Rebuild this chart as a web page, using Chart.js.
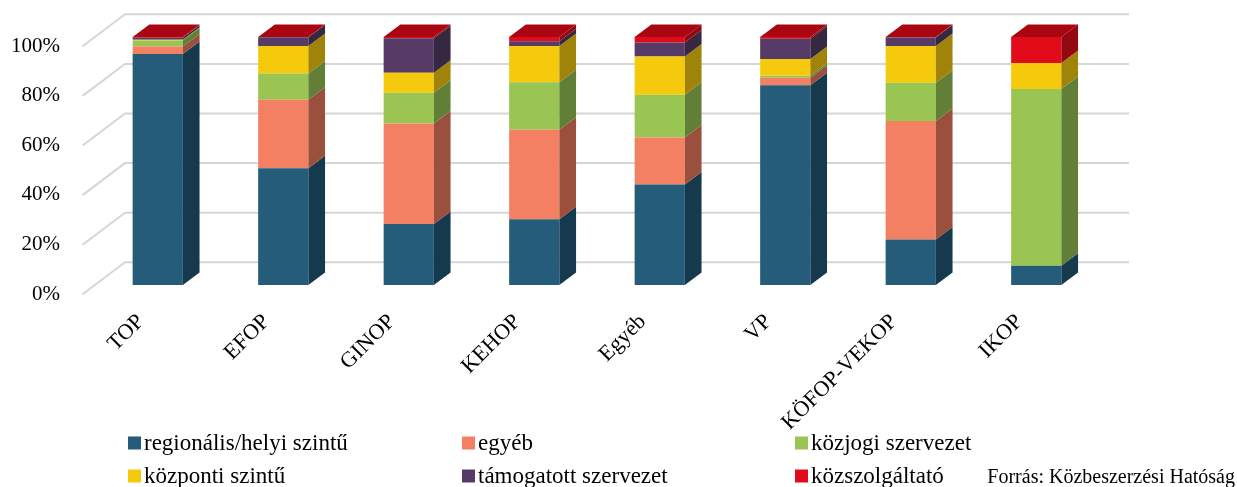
<!DOCTYPE html>
<html>
<head>
<meta charset="utf-8">
<script src="https://cdn.jsdelivr.net/npm/chart.js@4/dist/chart.umd.min.js"></script>
<style>
  html, body { margin: 0; padding: 0; background: #ffffff; }
  #wrap { position: relative; width: 1237px; height: 487px; }
</style>
</head>
<body>
<div id="wrap"><canvas id="kozbeszChart"></canvas></div>
<script>
// Operatív programok és ajánlatkérő típusok megoszlása (%)
const programs = ['TOP', 'EFOP', 'GINOP', 'KEHOP', 'Egyéb', 'VP', 'KÖFOP-VEKOP', 'IKOP'];
const regionalis = [93.1, 47.1, 24.6, 26.5, 40.5, 80.5, 18.3, 7.8];
const egyeb      = [3.1, 27.6, 40.5, 36.1, 19.0, 3.1, 47.8, 0.0];
const kozjogi    = [2.4, 10.6, 12.4, 19.2, 17.2, 0.8, 15.5, 71.2];
const kozponti   = [0.3, 11.1, 8.1, 14.6, 15.4, 6.7, 14.8, 10.5];
const tamogatott = [0.8, 3.5, 13.9, 1.9, 5.7, 8.2, 3.4, 0.0];
const kozszolg   = [0.3, 0.1, 0.5, 1.7, 2.2, 0.7, 0.2, 10.5];
const yTickValues = [0, 20, 40, 60, 80, 100];

const seriesNames = ['regionális/helyi szintű', 'egyéb', 'közjogi szervezet',
                     'központi szintű', 'támogatott szervezet', 'közszolgáltató'];
const frontColors = ['#245C7A', '#F38062', '#9BC552', '#F6CA0C', '#553B66', '#E10B1A'];
const sideColors  = ['#163A4D', '#9A503D', '#617F36', '#A0840A', '#372841', '#930811'];
const topColor = '#AA0612';

// depth of the boxes and of the back wall
const DEPTH_X = 16.7, DEPTH_Y = -12.5;
const WALL_X = 30, WALL_Y = -22.7;
const FRONT_X = -12.4, FRONT_Y = 9.3;
const GRID_COLOR = '#d6d6d6';

const serif = "'Liberation Serif', 'Times New Roman', serif";

const box3d = {
  id: 'box3d',
  beforeDatasetsDraw(chart) {
    const { ctx, chartArea, scales } = chart;
    ctx.save();
    ctx.strokeStyle = GRID_COLOR;
    ctx.lineWidth = 2;
    scales.y.ticks.forEach(t => {
      const py = scales.y.getPixelForValue(t.value);
      ctx.beginPath();
      ctx.moveTo(chartArea.left + FRONT_X, py + FRONT_Y);
      ctx.lineTo(chartArea.left + WALL_X, py + WALL_Y);
      ctx.lineTo(chartArea.right + WALL_X, py + WALL_Y);
      ctx.stroke();
    });
    ctx.restore();
  },
  afterDatasetsDraw(chart) {
    const { ctx } = chart;
    const tops = {};
    ctx.save();
    chart.data.datasets.forEach((ds, di) => {
      const meta = chart.getDatasetMeta(di);
      meta.data.forEach((bar, i) => {
        const half = bar.width / 2;
        const right = bar.x + half;
        const top = Math.min(bar.y, bar.base);
        const bottom = Math.max(bar.y, bar.base);
        if (!tops[i] || top < tops[i].top) tops[i] = { top, left: bar.x - half, right };
        if (bottom - top < 0.01) return;
        ctx.fillStyle = sideColors[di];
        ctx.beginPath();
        ctx.moveTo(right, top);
        ctx.lineTo(right + DEPTH_X, top + DEPTH_Y);
        ctx.lineTo(right + DEPTH_X, bottom + DEPTH_Y);
        ctx.lineTo(right, bottom);
        ctx.closePath();
        ctx.fill();
      });
    });
    // lids of the stacks
    Object.values(tops).forEach(b => {
      ctx.fillStyle = topColor;
      ctx.beginPath();
      ctx.moveTo(b.left, b.top);
      ctx.lineTo(b.left + DEPTH_X, b.top + DEPTH_Y);
      ctx.lineTo(b.right + DEPTH_X, b.top + DEPTH_Y);
      ctx.lineTo(b.right, b.top);
      ctx.closePath();
      ctx.fill();
    });
    ctx.restore();
  },
  afterDraw(chart) {
    const { ctx } = chart;
    const colX = [128, 462, 795];
    const rowY = [443, 476];
    ctx.save();
    ctx.textBaseline = 'middle';
    ctx.textAlign = 'left';
    ctx.font = '23px ' + serif;
    chart.data.datasets.forEach((ds, di) => {
      const x = colX[di % 3], y = rowY[Math.floor(di / 3)];
      ctx.fillStyle = ds.backgroundColor;
      ctx.fillRect(x, y - 6.5, 13, 13);
      ctx.fillStyle = '#000000';
      ctx.fillText(ds.label, x + 16, y + 1);
    });
    ctx.font = '20px ' + serif;
    ctx.textAlign = 'right';
    ctx.fillText('Forrás: Közbeszerzési Hatóság', 1235, 478);
    ctx.restore();
  }
};

const seriesValues = [regionalis, egyeb, kozjogi, kozponti, tamogatott, kozszolg];

new Chart(document.getElementById('kozbeszChart'), {
  type: 'bar',
  data: {
    labels: programs,
    datasets: seriesValues.map((vals, i) => ({
      label: seriesNames[i],
      data: vals,
      backgroundColor: frontColors[i],
      borderWidth: 0,
      categoryPercentage: 1,
      barPercentage: 0.4
    }))
  },
  options: {
    responsive: true,
    maintainAspectRatio: false,
    animation: false,
    layout: {
      padding: { top: 37, right: 138, left: 0, bottom: 0 }
    },
    scales: {
      x: {
        stacked: true,
        grid: { display: false, drawTicks: false },
        border: { display: false },
        ticks: {
          autoSkip: false,
          minRotation: 45,
          maxRotation: 45,
          padding: 24,
          labelOffset: -17,
          color: '#000000',
          font: { family: serif, size: 22 }
        },
        afterFit(scale) { scale.height = 202; }
      },
      y: {
        stacked: true,
        min: 0,
        max: 100,
        afterBuildTicks(scale) {
          scale.ticks = yTickValues.map(v => ({ value: v }));
        },
        grid: { display: false, drawTicks: false },
        border: { display: false },
        ticks: {
          padding: 35,
          labelOffset: 9,
          color: '#000000',
          font: { family: serif, size: 21 },
          callback: v => v + '%'
        },
        afterFit(scale) {
          scale.width = 95;
          // the label gap should not push the plot area down
          scale.paddingTop = 0;
          scale.paddingBottom = 0;
        }
      }
    },
    plugins: {
      legend: { display: false },
      tooltip: { enabled: false }
    }
  },
  plugins: [box3d]
});
</script>
</body>
</html>
